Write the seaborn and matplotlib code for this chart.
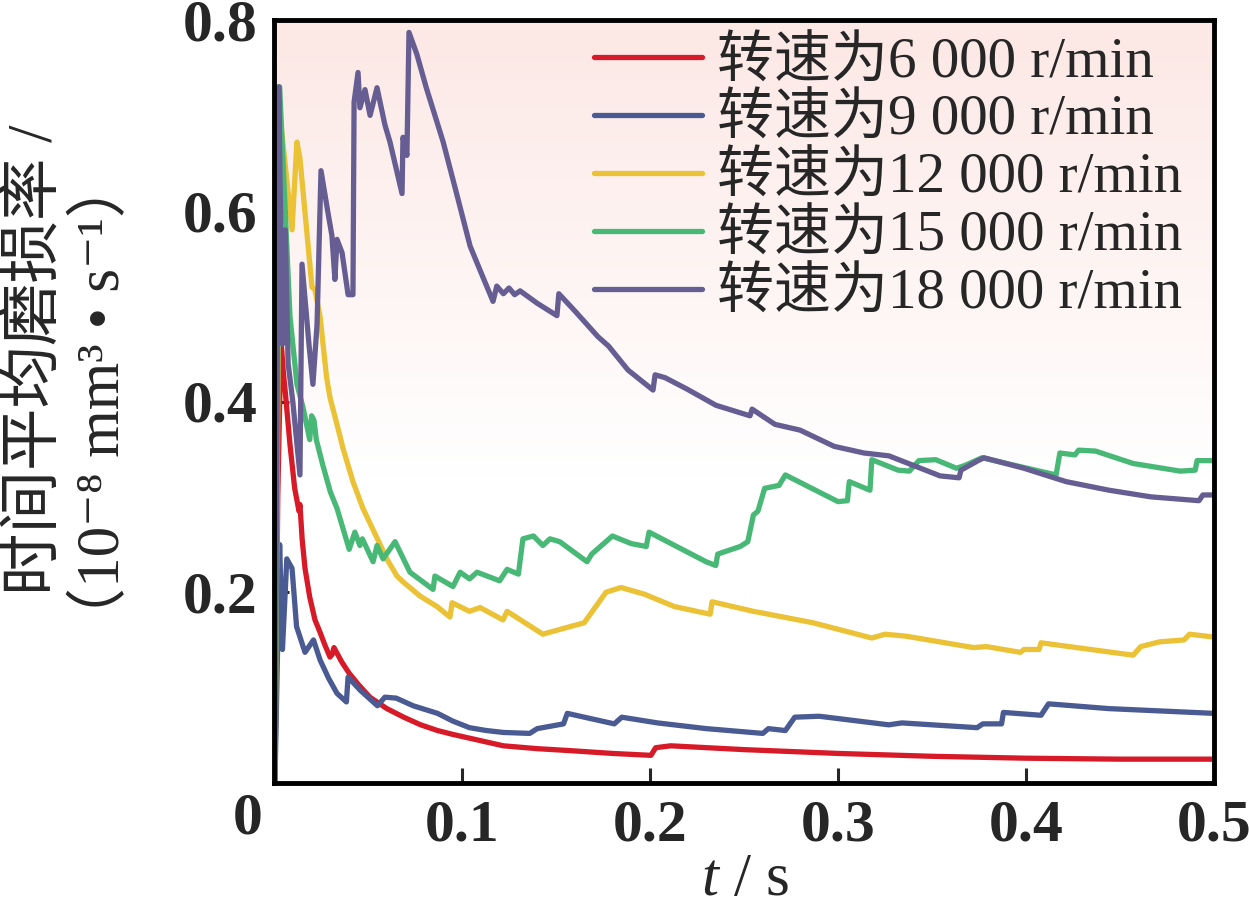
import numpy as np
import pandas as pd
import matplotlib
matplotlib.use("Agg")
import matplotlib.pyplot as plt
import seaborn as sns
from matplotlib.colors import LinearSegmentedColormap

# -------------------------- 数据 --------------------------
labels = ["转速为6 000 r/min", "转速为9 000 r/min", "转速为12 000 r/min",
          "转速为15 000 r/min", "转速为18 000 r/min"]
colors = ["#d71a28", "#4a5a92", "#ebc136", "#47b875", "#665e92"]

t_6000 = [0.0005, 0.0020, 0.0037, 0.0050, 0.0060, 0.0085, 0.011, 0.0133, 0.0138, 0.0150, 0.0165,
          0.0190, 0.0218, 0.0245, 0.0270, 0.0298, 0.0310, 0.0319, 0.0360, 0.040, 0.045, 0.051,
          0.060, 0.069, 0.078, 0.087, 0.095, 0.104, 0.113, 0.122, 0.140, 0.157, 0.180, 0.2005,
          0.2030, 0.211, 0.250, 0.300, 0.350, 0.400, 0.450, 0.500]
v_6000 = [0.0, 0.30, 0.465, 0.43, 0.41, 0.355, 0.309, 0.285, 0.292, 0.255, 0.225,
          0.195, 0.171, 0.158, 0.145, 0.132, 0.135, 0.142, 0.127, 0.115, 0.103, 0.090,
          0.078, 0.069, 0.061, 0.055, 0.051, 0.047, 0.043, 0.039, 0.036, 0.034, 0.031, 0.029,
          0.037, 0.039, 0.035, 0.031, 0.028, 0.026, 0.025, 0.025]

t_9000 = [0.0005, 0.0030, 0.0045, 0.0068, 0.0096, 0.012, 0.0165, 0.021, 0.0245, 0.029, 0.0335,
          0.0385, 0.0394, 0.046, 0.055, 0.059, 0.065, 0.074, 0.087, 0.095, 0.104, 0.113, 0.122,
          0.136, 0.140, 0.154, 0.156, 0.181, 0.185, 0.204, 0.230, 0.260, 0.263, 0.272, 0.277,
          0.290, 0.327, 0.334, 0.374, 0.377, 0.387, 0.388, 0.408, 0.412, 0.444, 0.500]
v_9000 = [0.0, 0.25, 0.14, 0.235, 0.225, 0.164, 0.137, 0.150, 0.129, 0.110, 0.094,
          0.085, 0.111, 0.097, 0.081, 0.090, 0.089, 0.081, 0.073, 0.065, 0.058, 0.055, 0.053,
          0.052, 0.057, 0.062, 0.073, 0.062, 0.069, 0.063, 0.057, 0.052, 0.057, 0.055, 0.069,
          0.070, 0.061, 0.063, 0.058, 0.062, 0.062, 0.074, 0.071, 0.083, 0.078, 0.073]

t_12000 = [0.0005, 0.0032, 0.0096, 0.0106, 0.0122, 0.0138, 0.0202, 0.0218, 0.0245, 0.028, 0.0298,
           0.0335, 0.0367, 0.042, 0.0473, 0.055, 0.060, 0.0654, 0.0686, 0.0777, 0.0867, 0.0936,
           0.0947, 0.104, 0.1096, 0.1218, 0.124, 0.143, 0.152, 0.165, 0.1766, 0.1846, 0.197,
           0.213, 0.232, 0.233, 0.255, 0.2867, 0.318, 0.325, 0.336, 0.372, 0.379, 0.397, 0.399,
           0.407, 0.408, 0.457, 0.461, 0.471, 0.484, 0.487, 0.500]
v_12000 = [0.0, 0.70, 0.58, 0.616, 0.672, 0.655, 0.52, 0.517, 0.489, 0.425, 0.404,
           0.376, 0.351, 0.316, 0.288, 0.256, 0.235, 0.217, 0.211, 0.196, 0.185, 0.174,
           0.189, 0.180, 0.184, 0.171, 0.180, 0.156, 0.161, 0.168, 0.200, 0.205, 0.198,
           0.185, 0.177, 0.190, 0.180, 0.168, 0.152, 0.156, 0.154, 0.142, 0.143, 0.137, 0.140,
           0.140, 0.147, 0.134, 0.143, 0.148, 0.150, 0.156, 0.153]

t_15000 = [0.0005, 0.0030, 0.0085, 0.0122, 0.0154, 0.0190, 0.0200, 0.0213, 0.0225, 0.0260, 0.0300,
           0.0335, 0.040, 0.043, 0.0457, 0.047, 0.0527, 0.0548, 0.058, 0.0644, 0.0723, 0.0846,
           0.0856, 0.0952, 0.099, 0.104, 0.108, 0.120, 0.124, 0.130, 0.1324, 0.138, 0.143, 0.1468,
           0.152, 0.1665, 0.169, 0.180, 0.190, 0.198, 0.1995, 0.2298, 0.235, 0.236, 0.248, 0.252,
           0.255, 0.2574, 0.261, 0.2686, 0.272, 0.300, 0.305, 0.306, 0.317, 0.318, 0.332, 0.338,
           0.343, 0.352, 0.363, 0.3676, 0.3766, 0.416, 0.418, 0.426, 0.428, 0.437, 0.457, 0.482,
           0.490, 0.491, 0.500]
v_15000 = [0.0, 0.73, 0.489, 0.418, 0.394, 0.36, 0.385, 0.38, 0.36, 0.333, 0.305,
           0.288, 0.245, 0.263, 0.249, 0.256, 0.232, 0.249, 0.235, 0.253, 0.221, 0.203,
           0.217, 0.206, 0.221, 0.214, 0.221, 0.212, 0.224, 0.219, 0.256, 0.259, 0.249, 0.256,
           0.253, 0.232, 0.240, 0.259, 0.251, 0.248, 0.263, 0.232, 0.228, 0.240, 0.248, 0.253,
           0.281, 0.285, 0.309, 0.312, 0.323, 0.295, 0.296, 0.316, 0.307, 0.339, 0.328, 0.327,
           0.338, 0.339, 0.330, 0.333, 0.341, 0.323, 0.346, 0.344, 0.349, 0.348, 0.335, 0.327,
           0.328, 0.338, 0.338]

t_18000 = [0.0005, 0.0025, 0.0045, 0.0060, 0.0075, 0.0100, 0.0138, 0.0149, 0.0186, 0.0207, 0.0229,
           0.0250, 0.0287, 0.0308, 0.0324, 0.0335, 0.0362, 0.0394, 0.0420, 0.0426, 0.0447, 0.0457,
           0.0484, 0.0511, 0.0548, 0.0590, 0.0617, 0.0681, 0.0686, 0.0707, 0.0718, 0.0760, 0.0810,
           0.0867, 0.0900, 0.0970, 0.1043, 0.1110, 0.1165, 0.1185, 0.1220, 0.1250, 0.1280, 0.1309,
           0.1400, 0.1505, 0.1515, 0.1600, 0.1723, 0.1780, 0.1883, 0.2016, 0.2027, 0.2080, 0.2197,
           0.2351, 0.2532, 0.2543, 0.2665, 0.2798, 0.2979, 0.3138, 0.3271, 0.3543, 0.3644, 0.3654,
           0.3745, 0.3777, 0.3989, 0.4213, 0.4441, 0.4665, 0.4920, 0.4941, 0.5000]
v_18000 = [0.0, 0.73, 0.46, 0.58, 0.44, 0.40, 0.323, 0.544, 0.460, 0.418, 0.481,
           0.642, 0.598, 0.574, 0.528, 0.570, 0.556, 0.512, 0.512, 0.714, 0.745, 0.708,
           0.727, 0.700, 0.729, 0.690, 0.672, 0.618, 0.677, 0.658, 0.787, 0.764, 0.729,
           0.693, 0.672, 0.619, 0.563, 0.531, 0.505, 0.521, 0.513, 0.519, 0.512, 0.516,
           0.503, 0.490, 0.513, 0.495, 0.468, 0.458, 0.433, 0.412, 0.428, 0.425, 0.413,
           0.396, 0.385, 0.392, 0.376, 0.370, 0.353, 0.346, 0.343, 0.322, 0.320, 0.328,
           0.338, 0.341, 0.330, 0.316, 0.307, 0.300, 0.296, 0.302, 0.302]

x_ticks = [0.1, 0.2, 0.3, 0.4, 0.5]
y_ticks = [0.2, 0.4, 0.6, 0.8]

series = [(t_6000, v_6000), (t_9000, v_9000), (t_12000, v_12000),
          (t_15000, v_15000), (t_18000, v_18000)]
frames = []
for name, (tt, vv) in zip(labels, series):
    frames.append(pd.DataFrame({"t": tt, "v": vv, "series": name}))
df = pd.concat(frames, ignore_index=True)

# -------------------------- 样式 --------------------------
sns.set_theme(style="ticks")
plt.rcParams['font.family'] = ['Liberation Serif', 'Noto Sans CJK SC', 'DejaVu Sans']
plt.rcParams['mathtext.fontset'] = 'custom'
plt.rcParams['mathtext.rm'] = 'Liberation Serif'
plt.rcParams['mathtext.it'] = 'Liberation Serif:italic'

fig = plt.figure(figsize=(12.49, 9.16), dpi=100)
ax = fig.add_axes([274 / 1249, 1 - 783 / 916, 940 / 1249, 763 / 916])

# 背景渐变
cmap = LinearSegmentedColormap.from_list("bg", [(0, "#ffffff"), (0.4, "#ffffff"), (1, "#fce8e5")])
grad = np.linspace(0, 1, 256).reshape(-1, 1)
ax.imshow(grad, extent=[0, 0.5, 0, 0.8], origin="lower", aspect="auto", cmap=cmap, zorder=0)

sns.lineplot(data=df, x="t", y="v", hue="series", palette=colors, estimator=None,
             sort=False, lw=3.8, ax=ax, zorder=3)
for ln in ax.get_lines():
    ln.set_solid_joinstyle("round")

ax.set_xlim(0, 0.5)
ax.set_ylim(0, 0.8)
ax.set_xticks(x_ticks)
ax.set_yticks(y_ticks)
ax.set_xticklabels(["0.1", "0.2", "0.3", "0.4", "0.5"])
ax.set_yticklabels(["0.2", "0.4", "0.6", "0.8"])
ax.tick_params(direction="in", length=11, width=2.2, labelsize=43, pad=12)
for lab in ax.get_xticklabels() + ax.get_yticklabels():
    lab.set_fontweight("bold")
for sp in ax.spines.values():
    sp.set_linewidth(3.5)
    sp.set_color("black")
    sp.set_zorder(5)

ax.text(-0.012, -0.012, "0", transform=ax.transAxes, ha="right", va="top",
        fontsize=43, fontweight="bold")

ax.set_xlabel("")
ax.set_ylabel("")
fig.text(745 / 1249, 1 - 880 / 916, "$t$ / s", ha="center", va="center", fontsize=44)
fig.text(36 / 1249, 1 - 360 / 916, "时间平均磨损率 /", rotation=90, ha="center", va="center",
         fontsize=45)
fig.text(103 / 1249, 1 - 402 / 916, "（10⁻⁸ mm³ • s⁻¹）", rotation=90,
         ha="center", va="center", fontsize=44)

handles, _ = ax.get_legend_handles_labels()
leg = ax.legend(handles, labels, loc="upper right", frameon=False, fontsize=41,
                handlelength=1.9, handletextpad=0.25, labelspacing=0.1,
                borderaxespad=-0.1, bbox_to_anchor=(0.984, 1.0))
for line in leg.get_lines():
    line.set_linewidth(3.8)

fig.savefig("out.png", dpi=100)
